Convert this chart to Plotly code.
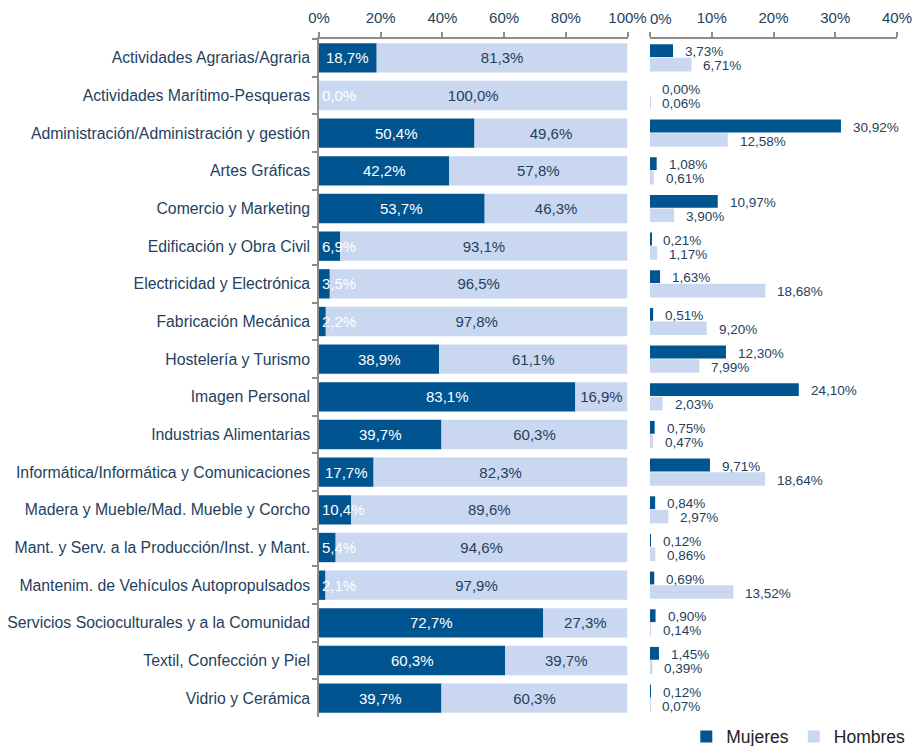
import plotly.graph_objects as go

categories = [
    "Actividades Agrarias/Agraria",
    "Actividades Marítimo-Pesqueras",
    "Administración/Administración y gestión",
    "Artes Gráficas",
    "Comercio y Marketing",
    "Edificación y Obra Civil",
    "Electricidad y Electrónica",
    "Fabricación Mecánica",
    "Hostelería y Turismo",
    "Imagen Personal",
    "Industrias Alimentarias",
    "Informática/Informática y Comunicaciones",
    "Madera y Mueble/Mad. Mueble y Corcho",
    "Mant. y Serv. a la Producción/Inst. y Mant.",
    "Mantenim. de Vehículos Autopropulsados",
    "Servicios Socioculturales y a la Comunidad",
    "Textil, Confección y Piel",
    "Vidrio y Cerámica",
]
share_mujeres = [18.7, 0.0, 50.4, 42.2, 53.7, 6.9, 3.5, 2.2, 38.9, 83.1, 39.7, 17.7, 10.4, 5.4, 2.1, 72.7, 60.3, 39.7]
share_hombres = [81.3, 100.0, 49.6, 57.8, 46.3, 93.1, 96.5, 97.8, 61.1, 16.9, 60.3, 82.3, 89.6, 94.6, 97.9, 27.3, 39.7, 60.3]
dist_mujeres = [3.73, 0.00, 30.92, 1.08, 10.97, 0.21, 1.63, 0.51, 12.30, 24.10, 0.75, 9.71, 0.84, 0.12, 0.69, 0.90, 1.45, 0.12]
dist_hombres = [6.71, 0.06, 12.58, 0.61, 3.90, 1.17, 18.68, 9.20, 7.99, 2.03, 0.47, 18.64, 2.97, 0.86, 13.52, 0.14, 0.39, 0.07]
left_ticks = [0, 20, 40, 60, 80, 100]
right_ticks = [0, 10, 20, 30, 40]

DARK = "#005490"
LIGHT = "#C9D7F0"
TXT = "#243F60"
AXC = "#8C8C8C"
FONT = "Liberation Sans, Arial, sans-serif"


def fmt(v, d):
    return f"{v:.{d}f}".replace(".", ",") + "%"


fig = go.Figure()

# Left panel: 100% stacked (drawn with explicit base in overlay mode)
fig.add_trace(go.Bar(
    y=categories, x=share_mujeres, orientation="h", name="Mujeres",
    marker=dict(color=DARK, line=dict(width=0)), xaxis="x", yaxis="y",
    width=0.78, showlegend=False, hoverinfo="skip",
))
fig.add_trace(go.Bar(
    y=categories, x=share_hombres, base=share_mujeres, orientation="h", name="Hombres",
    marker=dict(color=LIGHT, line=dict(width=0)), xaxis="x", yaxis="y",
    width=0.78,
    text=[fmt(v, 1) for v in share_hombres], textposition="inside",
    insidetextanchor="middle", constraintext="none",
    textfont=dict(color=TXT, size=15, family=FONT),
    showlegend=False, hoverinfo="skip",
))

# Right panel: grouped distribution
fig.add_trace(go.Bar(
    y=categories, x=dist_mujeres, orientation="h", name="Mujeres",
    marker=dict(color=DARK, line=dict(width=0)), xaxis="x2", yaxis="y2",
    offset=-0.36, width=0.34, hoverinfo="skip",
))
fig.add_trace(go.Bar(
    y=categories, x=dist_hombres, orientation="h", name="Hombres",
    marker=dict(color=LIGHT, line=dict(width=0)), xaxis="x2", yaxis="y2",
    offset=0.0, width=0.36, hoverinfo="skip",
))

annotations = []
for c, v in zip(categories, share_mujeres):
    if v / 2 < 6.5:
        annotations.append(dict(x=0, y=c, xref="x", yref="y", text=fmt(v, 1),
                                showarrow=False, xanchor="left", xshift=1,
                                font=dict(color="white", size=15, family=FONT)))
    else:
        annotations.append(dict(x=v / 2, y=c, xref="x", yref="y", text=fmt(v, 1),
                                showarrow=False, xanchor="center",
                                font=dict(color="white", size=15, family=FONT)))
for c, vm, vh in zip(categories, dist_mujeres, dist_hombres):
    annotations.append(dict(x=vm, y=c, xref="x2", yref="y2", text=fmt(vm, 2),
                            showarrow=False, xanchor="left", xshift=10, yshift=6,
                            font=dict(color=TXT, size=13.5, family=FONT)))
    annotations.append(dict(x=vh, y=c, xref="x2", yref="y2", text=fmt(vh, 2),
                            showarrow=False, xanchor="left", xshift=10, yshift=-8,
                            font=dict(color=TXT, size=13.5, family=FONT)))
# right panel "0%" tick label, nudged right as in the original
annotations.append(dict(x=right_ticks[0], y=1, xref="x2", yref="paper",
                        text=f"{right_ticks[0]}%", showarrow=False,
                        xanchor="left", yanchor="bottom", yshift=10, xshift=-2,
                        font=dict(color=TXT, size=15, family=FONT)))

W, H = 922, 746
L, R = 319, 897
T, B = 39, 717
pw = R - L
fig.update_layout(
    width=W, height=H,
    margin=dict(l=L, r=W - R, t=T, b=H - B, pad=0, autoexpand=False),
    paper_bgcolor="white", plot_bgcolor="white",
    barmode="overlay",
    font=dict(family=FONT, color=TXT),
    annotations=annotations,
    legend=dict(orientation="h", x=1.023, xanchor="right",
                y=-0.029, yanchor="middle",
                traceorder="normal",
                font=dict(size=17.5, color="#222222", family=FONT),
                itemwidth=30, tracegroupgap=0, bgcolor="rgba(0,0,0,0)"),
    xaxis=dict(domain=[0, (627.5 - L) / pw], range=[0, 100], side="top",
               tickvals=left_ticks, ticktext=[f"{t}%" for t in left_ticks],
               showline=True, linecolor=AXC, linewidth=1.5, ticks="outside",
               ticklen=5, tickcolor=AXC, tickwidth=1.5, showgrid=False,
               zeroline=False, tickfont=dict(size=15, color=TXT), automargin=False,
               ticklabelstandoff=3),
    yaxis=dict(autorange="reversed", showline=True, linecolor=AXC, linewidth=1.5,
               ticks="outside", tickson="boundaries", ticklen=5, tickcolor=AXC,
               tickwidth=1.5, showgrid=False, zeroline=False, automargin=False,
               tickfont=dict(size=15.8, color=TXT), ticklabelstandoff=4),
    xaxis2=dict(domain=[(650 - L) / pw, 1], range=[0, 40], side="top", anchor="y2",
                tickvals=right_ticks,
                ticktext=["" if t == 0 else f"{t}%" for t in right_ticks],
                showline=True, linecolor=AXC, linewidth=1.5, ticks="outside",
                ticklen=5, tickcolor=AXC, tickwidth=1.5, showgrid=False,
                zeroline=False, tickfont=dict(size=15, color=TXT), automargin=False,
                ticklabelstandoff=3),
    yaxis2=dict(anchor="x2", autorange="reversed", showticklabels=False,
                showline=False, showgrid=False, zeroline=False, ticks="",
                matches="y", automargin=False),
)

fig.write_html(
    "out.html",
    config={"displayModeBar": False},
    post_script="document.body.style.margin='0';document.body.style.padding='0';",
)
